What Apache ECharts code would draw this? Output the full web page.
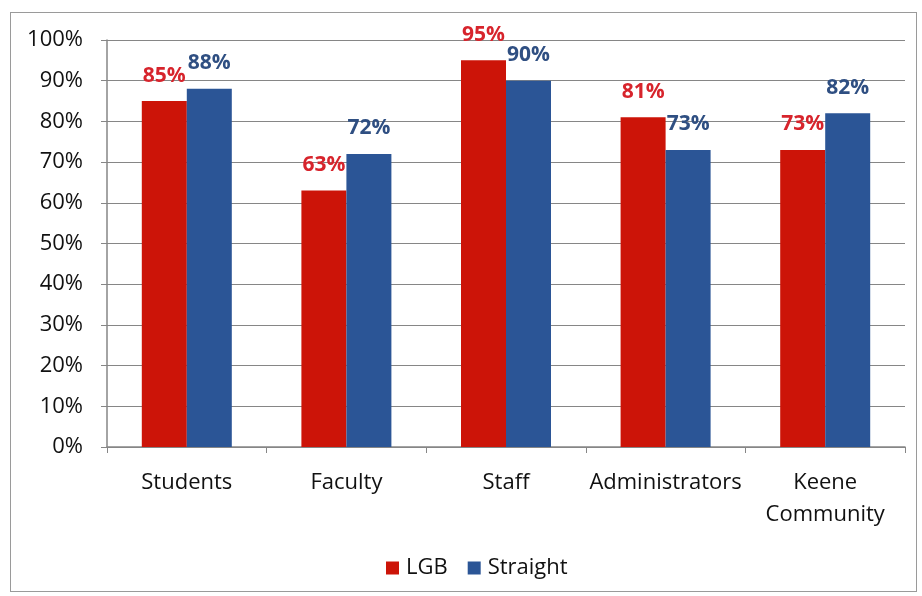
<!DOCTYPE html>
<html><head><meta charset="utf-8">
<script src="https://cdn.jsdelivr.net/npm/echarts@6/dist/echarts.min.js"></script>
<style>html,body{margin:0;padding:0;background:#fff}#c{width:922px;height:596px}
#frame{position:absolute;left:10px;top:12px;width:907px;height:580px;border:1.5px solid #9a9a9a;box-sizing:border-box;pointer-events:none}</style>
</head><body><div id="c"></div><div id="frame"></div>
<script>
const categories = ['Students', 'Faculty', 'Staff', 'Administrators', 'Keene\nCommunity'];
const lgb = [85, 63, 95, 81, 73];
const straight = [88, 72, 90, 73, 82];
const yTicks = [0, 10, 20, 30, 40, 50, 60, 70, 80, 90, 100];

const chart = echarts.init(document.getElementById('c'));
const font = '"Open Sans", Lato, sans-serif';
chart.setOption({
  animation: false,
  grid: { left: 107, right: 17, top: 40, bottom: 149, containLabel: false },
  legend: {
    bottom: 12, left: 381, itemWidth: 13, itemHeight: 13, itemGap: 20,
    icon: 'rect',
    textStyle: { fontFamily: font, fontSize: 22, color: '#111', padding: [0, 0, 0, 2] },
    data: ['LGB', 'Straight']
  },
  xAxis: {
    type: 'category', data: categories,
    axisLine: { lineStyle: { color: '#868686', width: 1.5 } },
    axisTick: { show: true, alignWithLabel: false, length: 6, lineStyle: { color: '#868686' } },
    axisLabel: { fontFamily: font, fontSize: 22, color: '#111', margin: 20, lineHeight: 32, interval: 0 }
  },
  yAxis: {
    type: 'value', min: 0, max: 100, interval: 10,
    axisLine: { show: true, lineStyle: { color: '#868686', width: 1.5 } },
    axisTick: { show: true, length: 6, lineStyle: { color: '#868686' } },
    splitLine: { lineStyle: { color: '#868686', width: 1.2 } },
    axisLabel: { fontFamily: font, fontSize: 22, color: '#111', margin: 24,
      formatter: v => yTicks.includes(v) ? v + '%' : '' }
  },
  series: [
    { name: 'LGB', type: 'bar', data: lgb, barWidth: 45, barGap: '0%',
      itemStyle: { color: '#cc1408' },
      label: { show: true, position: 'top', distance: 15, formatter: '{c}%',
        fontFamily: font, fontWeight: 'bold', fontSize: 21, color: '#d7242c' } },
    { name: 'Straight', type: 'bar', data: straight, barWidth: 45, barGap: '0%',
      itemStyle: { color: '#2b5596' },
      label: { show: true, position: 'top', distance: 15, formatter: '{c}%',
        fontFamily: font, fontWeight: 'bold', fontSize: 21, color: '#2f4f82' } }
  ]
});
</script></body></html>
